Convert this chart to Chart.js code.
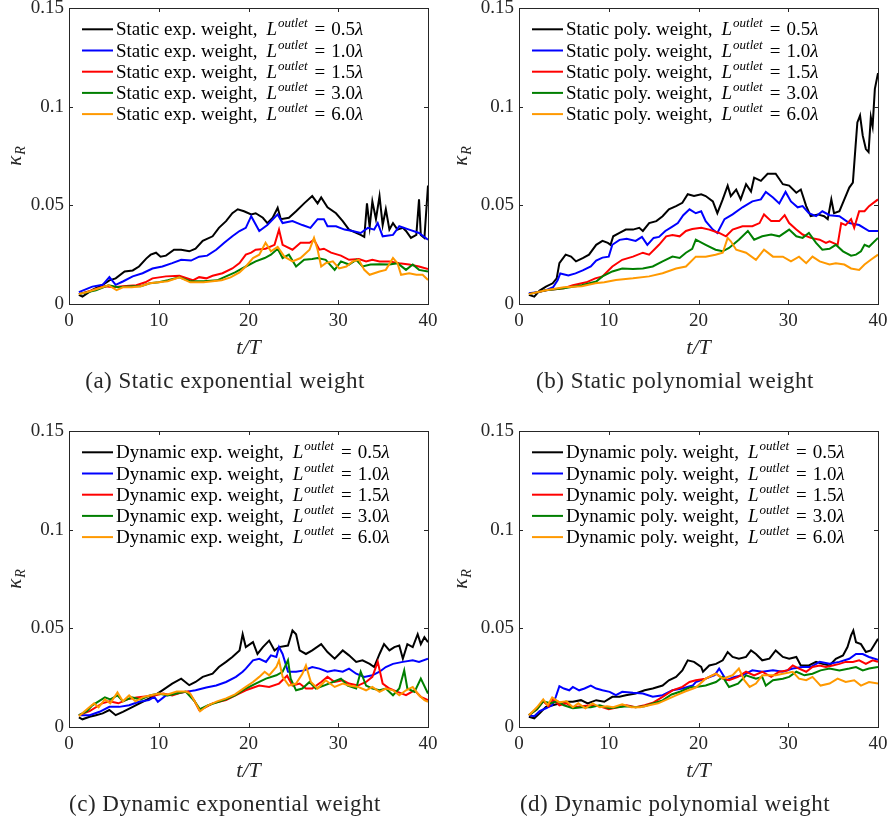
<!DOCTYPE html>
<html>
<head>
<meta charset="utf-8">
<script src="https://cdn.jsdelivr.net/npm/chart.js@4.4.1/dist/chart.umd.min.js"></script>
<style>
  html, body { margin: 0; padding: 0; background: #fff; }
  #wrap { position: relative; width: 891px; height: 819px; background: #fff; overflow: hidden; }
  #wrap canvas { position: absolute; }
</style>
</head>
<body>
<div id="wrap">
  <canvas id="ca" width="446" height="410" style="left:0;top:0"></canvas>
  <canvas id="cb" width="445" height="410" style="left:446px;top:0"></canvas>
  <canvas id="cc" width="446" height="409" style="left:0;top:410px"></canvas>
  <canvas id="cd" width="445" height="409" style="left:446px;top:410px"></canvas>
</div>
<script>
// tick values / labels
const xTicks = [0, 10, 20, 30, 40];
const xTickLabels = ['0', '10', '20', '30', '40'];
const yTicks = [0, 0.05, 0.1, 0.15];
const yTickLabels = ['0', '0.05', '0.1', '0.15'];
const outletLengths = ['0.5', '1.0', '1.5', '3.0', '6.0'];
const seriesColors = ['#000000', '#0000ff', '#ff0000', '#007f00', '#ff9900'];

// (a) static exponential weight, [t/T, kappa_R]
const aBlack = [[1.1,.0046],[1.5,.0037],[2.6,.0071],[3.75,.0097],[4.5,.012],[5.2,.013],[6.2,.0165],[7.1,.017],[7.8,.019],[8.6,.023],[9.1,.025],[9.7,.026],[10.2,.024],[10.8,.0245],[11.7,.0275],[12.5,.0275],[13.4,.0267],[14.1,.028],[14.9,.032],[16,.0343],[16.7,.0386],[17.5,.042],[18.2,.046],[18.8,.048],[19.5,.047],[20.3,.0454],[20.8,.046],[21.6,.0437],[22.1,.041],[22.7,.0437],[23.25,.0488],[23.6,.043],[24.5,.0437],[25.3,.047],[26.2,.051],[27.1,.0547],[27.7,.051],[28.1,.054],[28.8,.049],[29.75,.046],[30.5,.042],[31.2,.0377],[32,.036],[32.5,.035],[32.9,.034],[33.2,.051],[33.5,.039],[33.8,.052],[34.2,.043],[34.6,.0547],[34.95,.040],[35.3,.048],[35.7,.0377],[36.1,.041],[36.6,.0377],[37.2,.0386],[37.55,.037],[38.1,.0335],[38.7,.035],[39.0,.053],[39.2,.035],[39.6,.0335],[40,.06]];
const aBlue = [[1.1,.006],[2.6,.0088],[3.75,.0097],[4.5,.0136],[5.2,.0097],[6,.0114],[7.1,.014],[8.2,.0156],[9.3,.018],[10.4,.019],[11.5,.0207],[12.5,.0224],[13.6,.022],[14.5,.024],[15.4,.0245],[16.4,.0275],[17.3,.031],[18.2,.0343],[19,.037],[19.7,.0386],[20.3,.0445],[21.2,.037],[22.1,.040],[23.25,.0454],[23.8,.041],[24.9,.042],[26,.040],[26.9,.0386],[27.7,.043],[28.4,.043],[28.8,.0394],[29.75,.0394],[30.7,.0377],[31.6,.037],[32.5,.036],[33.3,.0386],[34,.0377],[34.4,.041],[34.95,.0343],[36.1,.035],[36.8,.0394],[37.9,.0377],[39,.036],[40,.0326]];
const aRed = [[1.1,.005],[2.6,.007],[4,.009],[5,.0085],[6,.009],[7.5,.0095],[8.5,.011],[9.3,.013],[10.8,.014],[12.3,.0143],[13.8,.012],[14.5,.0136],[15.3,.013],[16,.0143],[17.1,.0156],[18.2,.018],[19,.0207],[19.7,.025],[20.3,.026],[20.8,.0275],[21.9,.028],[22.9,.030],[23.4,.0377],[23.8,.030],[24.9,.0275],[25.8,.031],[26.8,.031],[27.3,.0326],[27.9,.0275],[28.4,.028],[29.2,.026],[30.3,.0245],[31.2,.0224],[32.3,.0228],[33.1,.0216],[33.8,.0224],[34.6,.0216],[35.7,.0216],[36.8,.0207],[37.9,.020],[39,.019],[40,.0177]];
const aGreen = [[1.1,.005],[2,.006],[3,.007],[4.4,.0095],[5.5,.0085],[7,.009],[8,.009],[9,.0105],[10,.011],[11,.012],[12.3,.0135],[13.5,.0115],[15,.0115],[16.5,.012],[17.5,.014],[18.5,.016],[19.7,.019],[20.8,.0216],[21.8,.0233],[22.5,.025],[23.25,.028],[23.8,.0233],[24.5,.025],[25.3,.019],[26.2,.0224],[27.1,.0228],[27.7,.0233],[28.6,.0224],[29.6,.0173],[30.3,.0216],[31.2,.020],[32,.0224],[32.7,.019],[33.6,.020],[34.6,.0202],[35.7,.020],[36.6,.0207],[37.55,.0173],[38.3,.020],[39,.0173],[40,.0165]];
const aOrange = [[1.1,.005],[2,.006],[3,.0075],[4.4,.0095],[5.3,.007],[6,.0085],[7,.0085],[8,.009],[9,.0105],[10,.011],[11,.0115],[12.3,.0135],[13.5,.011],[15,.011],[16,.0115],[17,.012],[18,.0135],[19,.016],[19.7,.019],[20.5,.0233],[21.2,.025],[21.9,.031],[22.5,.0267],[23.25,.029],[24,.024],[24.9,.0216],[25.8,.0233],[26.8,.0275],[27.3,.0335],[27.7,.0275],[28.1,.019],[28.6,.0207],[29.4,.0216],[30.1,.018],[30.9,.019],[31.6,.0216],[32.3,.0224],[32.9,.0173],[33.5,.0148],[34.6,.0165],[35.3,.0173],[36.1,.0233],[36.6,.0207],[37,.0148],[37.9,.0156],[38.7,.0148],[39.4,.0148],[40,.0122]];

// (b) static polynomial weight
const bBlack = [[1.1,.0046],[1.7,.0037],[2.3,.0068],[3,.0088],[3.75,.0105],[4.2,.013],[4.5,.0207],[5.2,.025],[5.8,.024],[6.35,.0216],[7.1,.0233],[7.8,.025],[8.6,.030],[9.3,.032],[9.9,.031],[10.2,.030],[10.5,.0343],[11.2,.036],[11.9,.0377],[12.7,.0377],[13.4,.0386],[13.8,.037],[14.5,.041],[15.3,.042],[16,.0445],[16.7,.048],[17.5,.0496],[18.2,.0513],[18.8,.0556],[19.5,.0547],[20.3,.0556],[20.8,.0547],[21.6,.052],[22.1,.046],[22.7,.053],[23.25,.060],[23.6,.0547],[24.2,.058],[24.7,.053],[25.3,.0607],[25.85,.057],[26.2,.064],[26.95,.0624],[27.7,.066],[28.6,.066],[29.4,.0607],[30.1,.060],[30.9,.0564],[31.4,.058],[32,.0496],[32.5,.0445],[33.3,.0454],[34,.0445],[34.4,.043],[34.8,.053],[35.1,.046],[35.7,.047],[36.25,.053],[36.8,.059],[37.2,.0615],[37.5,.080],[37.7,.092],[38.0,.0955],[38.3,.0853],[38.65,.0785],[38.95,.077],[39.2,.0947],[39.4,.090],[39.65,.109],[40,.117]];
const bBlue = [[1.1,.0055],[2,.006],[3,.007],[3.8,.0085],[4.3,.012],[4.6,.0155],[5.5,.0145],[6.3,.0155],[7.1,.017],[8,.019],[8.6,.022],[9.3,.0235],[10,.024],[10.4,.030],[11.2,.0325],[12,.033],[13,.032],[13.7,.034],[14.3,.030],[15,.0335],[15.6,.034],[16.3,.037],[17,.039],[17.7,.041],[18.3,.045],[19,.048],[19.7,.046],[20.3,.047],[20.8,.042],[21.6,.0377],[22.1,.036],[22.9,.043],[23.8,.0454],[24.9,.049],[26,.052],[26.95,.053],[27.5,.0568],[28.3,.054],[29,.051],[29.7,.0568],[30.3,.052],[31.05,.049],[31.6,.0496],[32.3,.046],[33.1,.0445],[33.8,.047],[34.6,.045],[35.7,.0445],[36.8,.041],[37.9,.040],[39,.037],[40,.037]];
const bRed = [[1.1,.005],[3,.007],[5,.008],[6,.0095],[7.5,.011],[8.5,.013],[9.3,.014],[10.4,.019],[11.5,.0224],[12.7,.024],[13.8,.026],[14.5,.025],[15.6,.030],[16.4,.0343],[17.1,.035],[17.9,.0343],[18.6,.037],[19.3,.038],[20.3,.0386],[21.2,.0377],[22.3,.036],[23.06,.0343],[23.8,.0377],[24.9,.0394],[26,.0394],[26.8,.041],[27.3,.0454],[28.1,.042],[29,.042],[29.6,.045],[30.1,.041],[30.9,.0377],[31.6,.0352],[32.5,.0335],[33.5,.0326],[34.2,.031],[34.6,.0318],[35.5,.030],[35.9,.041],[36.4,.040],[37,.043],[37.35,.0386],[37.9,.047],[38.5,.047],[39,.0496],[40,.053]];
const bGreen = [[1.1,.005],[3,.007],[5,.008],[7,.0095],[8.6,.0114],[9.3,.014],[10.4,.0165],[11.5,.018],[12.7,.0177],[13.8,.018],[14.9,.019],[16,.0216],[17.1,.024],[17.9,.0233],[18.6,.026],[19.3,.028],[19.7,.0326],[20.8,.030],[21.9,.0275],[22.7,.0267],[23.4,.0284],[24.5,.0326],[25.5,.037],[26.2,.0326],[27.1,.0343],[28.1,.0352],[29,.0343],[30.1,.0377],[30.9,.0343],[31.6,.0335],[32.3,.036],[33.1,.031],[33.8,.0275],[34.6,.028],[35.3,.030],[36.1,.0267],[37,.0245],[37.55,.025],[38.1,.0267],[38.5,.030],[39,.029],[40,.0335]];
const bOrange = [[1.1,.005],[3,.007],[5,.0085],[7,.009],[8.5,.0105],[9.5,.011],[10.8,.0122],[12.7,.013],[14.5,.014],[16,.0156],[17.5,.018],[18.6,.019],[19.7,.024],[20.8,.024],[21.9,.025],[22.7,.026],[23.25,.0335],[23.6,.0318],[24.2,.0275],[25.3,.026],[26.4,.0224],[27.3,.0275],[28.3,.024],[29.4,.024],[30.3,.0216],[31.2,.024],[32,.0207],[32.7,.024],[33.5,.0216],[34.6,.020],[35.3,.0207],[36.25,.020],[37,.018],[37.9,.0173],[38.5,.020],[39.2,.0224],[40,.025]];

// (c) dynamic exponential weight
const cBlack = [[1.1,.0049],[1.5,.0039],[2.3,.0052],[3,.006],[3.75,.0069],[4.5,.0086],[5.2,.006],[6,.0077],[7.1,.0102],[8.2,.0128],[9.3,.0153],[10.4,.0186],[11.5,.022],[12.5,.0245],[13.4,.0212],[14.1,.0228],[14.9,.0254],[16,.027],[16.7,.0304],[17.5,.033],[18.2,.0355],[19,.0388],[19.35,.047],[19.7,.0405],[20.5,.043],[21,.037],[21.6,.0405],[22.3,.0438],[22.9,.0388],[23.4,.0405],[24.4,.0413],[24.9,.0489],[25.3,.047],[25.7,.0388],[26.4,.037],[27.1,.0388],[28.1,.042],[28.8,.038],[29.6,.0346],[30.5,.0388],[31.2,.0363],[32,.033],[32.7,.0338],[33.5,.032],[34,.0304],[34.6,.037],[35.1,.042],[35.7,.0388],[36.25,.0405],[36.8,.0413],[37.2,.0346],[37.7,.042],[38.3,.0405],[38.85,.047],[39.2,.042],[39.6,.0455],[40,.043]];
const cBlue = [[1.1,.006],[2.3,.006],[3.4,.0077],[4.5,.0102],[5.6,.0102],[6.7,.011],[7.8,.0128],[8.9,.0136],[9.5,.0153],[9.9,.0128],[10.8,.016],[11.9,.017],[13,.0178],[14.1,.0186],[15.3,.020],[16.4,.021],[17.5,.0228],[18.6,.0254],[19.35,.028],[19.7,.0296],[20.5,.0338],[21.2,.0346],[21.95,.033],[22.5,.0363],[23.1,.0355],[23.4,.0405],[23.8,.037],[24.4,.028],[25.3,.028],[26.2,.0287],[27.1,.0304],[27.9,.0296],[28.8,.028],[29.6,.0287],[30.5,.028],[31.2,.0296],[32,.027],[32.9,.0254],[33.8,.0262],[34.6,.028],[35.3,.0304],[36.1,.032],[37.2,.033],[38.3,.0338],[39,.033],[40,.0346]];
const cRed = [[1.1,.006],[2.3,.008],[3,.010],[3.7,.012],[4.5,.013],[5.5,.012],[6.5,.014],[7.5,.015],[8.5,.0155],[9.5,.016],[10.5,.017],[11.5,.016],[12.5,.0175],[13.3,.018],[14,.013],[14.5,.0086],[15.2,.010],[16,.012],[17.5,.0136],[19,.017],[19.7,.0186],[21.2,.021],[22.3,.0203],[23.4,.022],[24.3,.026],[24.9,.021],[25.7,.022],[26.4,.0195],[27.1,.0195],[28.1,.0228],[28.8,.0254],[29.6,.0228],[30.5,.0237],[31.2,.022],[32.2,.021],[33.1,.0228],[33.8,.0254],[34.4,.033],[34.95,.022],[35.7,.0195],[36.6,.0178],[37.55,.0161],[38.5,.0186],[39.2,.0153],[40,.0136]];
const cGreen = [[1.1,.006],[2,.008],[2.6,.011],[3.3,.013],[4,.015],[4.6,.014],[5.4,.016],[6,.013],[7,.015],[8,.014],[9,.016],[10,.017],[11,.016],[12,.017],[13,.018],[14,.013],[14.6,.009],[15.5,.011],[16.5,.0125],[17.5,.014],[18.5,.016],[19.7,.0195],[20.8,.022],[21.95,.0245],[23.1,.0262],[23.8,.028],[24.4,.0338],[24.7,.0245],[25.3,.0186],[26,.0195],[26.8,.0228],[27.5,.0195],[28.4,.021],[29.4,.0228],[30.3,.0245],[31.05,.021],[32,.0195],[32.5,.028],[33.1,.021],[33.8,.0195],[34.6,.0186],[35.3,.0195],[36.1,.0161],[36.8,.0195],[37.35,.0287],[37.7,.0195],[38.5,.0178],[39.2,.0245],[40,.017]];
const cOrange = [[1.1,.0055],[2,.009],[2.8,.012],[3.3,.010],[4,.014],[4.6,.012],[5.4,.0175],[6,.013],[6.7,.016],[7.4,.013],[8.2,.015],[9,.016],[10,.017],[11,.0165],[12,.018],[13,.018],[13.5,.017],[14,.013],[14.6,.008],[15.5,.011],[16.5,.013],[17.5,.0145],[18.5,.0165],[19.7,.0203],[20.5,.0228],[21.2,.0254],[21.8,.028],[22.3,.0262],[23.1,.0304],[23.4,.0338],[23.8,.0254],[24.5,.021],[25.3,.022],[26,.027],[26.4,.0312],[26.95,.0228],[27.7,.0195],[28.6,.0237],[29.6,.0203],[30.5,.022],[31.2,.021],[32.2,.0203],[33.1,.0186],[33.8,.0203],[34.6,.0178],[35.3,.0195],[36.1,.0186],[36.8,.0161],[37.55,.0186],[38.3,.0203],[39,.0161],[39.6,.0136],[40,.0128]];

// (d) dynamic polynomial weight
const dBlack = [[1.1,.0052],[1.7,.0044],[2.3,.0069],[3,.0102],[3.75,.011],[4.5,.0119],[5.2,.0128],[6,.0128],[6.9,.0136],[7.65,.0119],[8.6,.0136],[9.5,.0128],[10.4,.0153],[11.2,.0153],[11.9,.0161],[13,.017],[14,.0186],[14.9,.0195],[16,.021],[16.7,.0237],[17.5,.0254],[18.2,.0287],[18.8,.0338],[19.5,.033],[20.3,.0304],[20.5,.028],[21.2,.0312],[21.95,.032],[22.7,.0338],[23.25,.038],[23.8,.0355],[24.5,.0346],[25.3,.0355],[25.85,.0388],[26.4,.037],[27.1,.0338],[27.9,.0346],[28.6,.0388],[29.4,.0355],[30.1,.0346],[30.9,.0355],[31.4,.0312],[32.3,.0312],[33.1,.033],[33.8,.032],[34.6,.0312],[35.3,.0346],[36.1,.0363],[36.6,.0405],[37,.0464],[37.25,.0489],[37.55,.043],[38.1,.042],[38.65,.038],[39.2,.0388],[40,.0447]];
const dBlue = [[1.1,.006],[1.7,.0055],[2.3,.008],[3,.0095],[3.7,.011],[4.1,.0153],[4.5,.0207],[5,.0195],[5.6,.0186],[6,.0203],[6.7,.0186],[7.3,.0195],[8,.021],[8.6,.0195],[9.3,.0186],[10.1,.0178],[10.8,.0161],[11.5,.0178],[12.7,.0173],[13.8,.017],[14.9,.0153],[16,.0161],[17.1,.0186],[18.2,.0195],[19.35,.021],[19.7,.0228],[20.8,.0245],[21.8,.0262],[22.3,.0296],[23.1,.0237],[24,.0254],[24.9,.0262],[26,.0287],[27.1,.028],[28.3,.0287],[29.4,.028],[30.5,.0296],[31.6,.0304],[32.5,.0304],[33.5,.033],[34.6,.032],[35.7,.033],[36.8,.0346],[37.55,.037],[38.3,.037],[39,.0355],[40,.034]];
const dRed = [[1.1,.006],[2,.009],[2.7,.013],[3.3,.0105],[3.8,.014],[4.5,.011],[5.3,.012],[6,.010],[7,.0105],[8,.011],[9,.0105],[10,.009],[11,.010],[12,.011],[13,.010],[14,.011],[15,.0125],[16,.0153],[17.1,.0186],[18.2,.0203],[19,.0228],[19.7,.0237],[20.8,.0245],[21.95,.027],[22.7,.0245],[23.4,.0237],[24.4,.0254],[25.3,.028],[26.2,.0262],[27.1,.028],[28.1,.0254],[29,.028],[29.9,.0287],[30.5,.0312],[31.2,.0296],[32,.028],[32.7,.0304],[33.5,.0312],[34.2,.0304],[34.95,.0312],[35.7,.032],[36.4,.033],[37.2,.033],[37.9,.0338],[38.65,.032],[39.4,.0338],[40,.033]];
const dGreen = [[1.1,.006],[2,.009],[2.7,.013],[3.5,.012],[4.3,.013],[5,.011],[6,.0095],[7,.010],[8,.010],[9,.011],[10,.0095],[11,.010],[12,.0105],[13,.010],[14,.0105],[15,.012],[16,.0135],[17,.0165],[18,.018],[19,.020],[19.7,.0203],[20.8,.021],[21.95,.0228],[22.7,.0254],[23.4,.0203],[24.4,.022],[25.3,.0262],[26.4,.0245],[27.1,.0254],[27.5,.021],[28.3,.0237],[29.4,.0245],[30.1,.0254],[30.9,.028],[31.8,.0262],[32.7,.027],[33.6,.0287],[34.6,.0296],[35.7,.0287],[36.8,.0296],[37.55,.0304],[38.3,.0287],[39,.0296],[40,.0304]];
const dOrange = [[1.1,.006],[2,.010],[2.7,.014],[3.2,.011],[3.7,.015],[4.5,.0125],[5.3,.013],[6,.010],[6.6,.012],[7.4,.0095],[8.2,.012],[9,.010],[9.8,.0105],[10.5,.010],[11.5,.0115],[12.5,.010],[13.5,.010],[14.5,.011],[15.5,.012],[16.5,.014],[17.5,.016],[18.5,.018],[19.7,.020],[20.8,.0245],[21.95,.027],[22.7,.0245],[23.8,.0262],[24.5,.0296],[25.1,.0237],[25.7,.0203],[26.4,.022],[27.1,.0262],[27.9,.0262],[28.6,.0262],[29.4,.027],[30.5,.028],[31.2,.0245],[32,.0237],[32.7,.0254],[33.6,.021],[34.6,.022],[35.5,.0245],[36.4,.0228],[37.35,.0237],[38.1,.021],[39,.0228],[40,.022]];

const SERIF = '"Liberation Serif", "Times New Roman", serif';
const AXIS = '#262626';

// frame, inner ticks, axis titles, legend and caption
const decor = {
  id: 'decor',
  afterDraw(chart) {
    const o = chart.options.plugins.decor;
    const { ctx, chartArea: a, scales } = chart;
    ctx.save();
    ctx.strokeStyle = AXIS;
    ctx.lineWidth = 1;
    ctx.strokeRect(a.left + 0.5, a.top + 0.5, a.right - a.left, a.bottom - a.top);
    ctx.beginPath();
    xTicks.slice(1, -1).forEach((v) => {
      const px = Math.round(scales.x.getPixelForValue(v)) + 0.5;
      ctx.moveTo(px, a.bottom); ctx.lineTo(px, a.bottom - 4);
      ctx.moveTo(px, a.top); ctx.lineTo(px, a.top + 4);
    });
    yTicks.slice(1, -1).forEach((v) => {
      const py = Math.round(scales.y.getPixelForValue(v)) + 0.5;
      ctx.moveTo(a.left, py); ctx.lineTo(a.left + 4, py);
      ctx.moveTo(a.right, py); ctx.lineTo(a.right - 4, py);
    });
    ctx.stroke();

    ctx.fillStyle = AXIS;
    ctx.textBaseline = 'alphabetic';
    // y label kappa_R
    ctx.save();
    ctx.translate(21, (a.top + a.bottom) / 2);
    ctx.rotate(-Math.PI / 2);
    ctx.font = 'italic 21px ' + SERIF;
    const kw = ctx.measureText('κ').width;
    ctx.font = 'italic 14px ' + SERIF;
    const rw = ctx.measureText('R').width;
    const x0 = -(kw + rw + 1) / 2;
    ctx.font = 'italic 21px ' + SERIF;
    ctx.fillText('κ', x0, 0);
    ctx.font = 'italic 14px ' + SERIF;
    ctx.fillText('R', x0 + kw + 1, 4);
    ctx.restore();

    // x title
    ctx.font = 'italic 22px ' + SERIF;
    ctx.textAlign = 'center';
    ctx.fillText('t/T', (a.left + a.right) / 2, a.bottom + 50);

    // caption
    ctx.font = '23px ' + SERIF;
    ctx.letterSpacing = '0.5px';
    ctx.fillText(o.caption, a.left + 156, a.bottom + 84);
    ctx.letterSpacing = '0px';

    // legend
    ctx.textAlign = 'left';
    chart.data.datasets.forEach((ds, i) => {
      const cy = a.top + 21.3 + i * 21.2;
      ctx.strokeStyle = ds.borderColor;
      ctx.lineWidth = 2;
      ctx.beginPath();
      ctx.moveTo(a.left + 13, cy); ctx.lineTo(a.left + 44, cy);
      ctx.stroke();
      ctx.fillStyle = '#000';
      let x = a.left + 47;
      const base = cy + 6;
      const part = (txt, font, dy, gap) => {
        ctx.font = font; ctx.fillText(txt, x, base + (dy || 0));
        x += ctx.measureText(txt).width + (gap || 0);
      };
      part(o.label + ',', '19px ' + SERIF, 0, 9);
      part('L', 'italic 19px ' + SERIF, 0, 1);
      part('outlet', 'italic 13px ' + SERIF, -8, 7);
      part('=', '19px ' + SERIF, 0, 6);
      part(outletLengths[i], '19px ' + SERIF);
      part('λ', 'italic 19px ' + SERIF);
    });
    ctx.restore();
  }
};

function makeChart(id, series, label, caption, plot) {
  const canvas = document.getElementById(id);
  const W = canvas.width, H = canvas.height;
  const xH = 70;
  const tickFont = { family: SERIF, size: 19 };
  return new Chart(canvas, {
    type: 'line',
    data: {
      datasets: series.map((pts, i) => ({
        data: pts.map(([x, y]) => ({ x, y })),
        borderColor: seriesColors[i],
        borderWidth: 2,
        pointRadius: 0,
        tension: 0,
        fill: false,
        order: series.length - 1 - i,
      })),
    },
    options: {
      responsive: false,
      animation: false,
      devicePixelRatio: 1,
      layout: { padding: { left: 0, top: plot.top, right: W - plot.right, bottom: H - plot.bottom - xH } },
      plugins: { legend: { display: false }, tooltip: { enabled: false }, decor: { label, caption } },
      scales: {
        x: {
          type: 'linear', min: 0, max: 40,
          grid: { display: false, drawTicks: false },
          border: { display: false },
          ticks: { font: tickFont, color: AXIS, padding: 6, maxRotation: 0, autoSkip: false, callback: (v, i) => xTickLabels[i] },
          afterBuildTicks: (s) => { s.ticks = xTicks.map((value) => ({ value })); },
          afterFit: (s) => { s.height = xH; s.paddingLeft = s.paddingRight = s.paddingTop = s.paddingBottom = 0; },
        },
        y: {
          type: 'linear', min: 0, max: 0.15,
          grid: { display: false, drawTicks: false },
          border: { display: false },
          ticks: { font: tickFont, color: AXIS, padding: 5, autoSkip: false, callback: (v, i) => yTickLabels[i] },
          afterBuildTicks: (s) => { s.ticks = yTicks.map((value) => ({ value })); },
          afterFit: (s) => { s.width = plot.left; s.paddingLeft = s.paddingRight = s.paddingTop = s.paddingBottom = 0; },
        },
      },
    },
    plugins: [decor],
  });
}

makeChart('ca', [aBlack, aBlue, aRed, aGreen, aOrange], 'Static exp. weight', '(a) Static exponential weight', { left: 69, right: 428, top: 8, bottom: 304 });
makeChart('cb', [bBlack, bBlue, bRed, bGreen, bOrange], 'Static poly. weight', '(b) Static polynomial weight', { left: 73, right: 432, top: 8, bottom: 304 });
makeChart('cc', [cBlack, cBlue, cRed, cGreen, cOrange], 'Dynamic exp. weight', '(c) Dynamic exponential weight', { left: 69, right: 428, top: 21, bottom: 317 });
makeChart('cd', [dBlack, dBlue, dRed, dGreen, dOrange], 'Dynamic poly. weight', '(d) Dynamic polynomial weight', { left: 73, right: 432, top: 21, bottom: 317 });
</script>
</body>
</html>
